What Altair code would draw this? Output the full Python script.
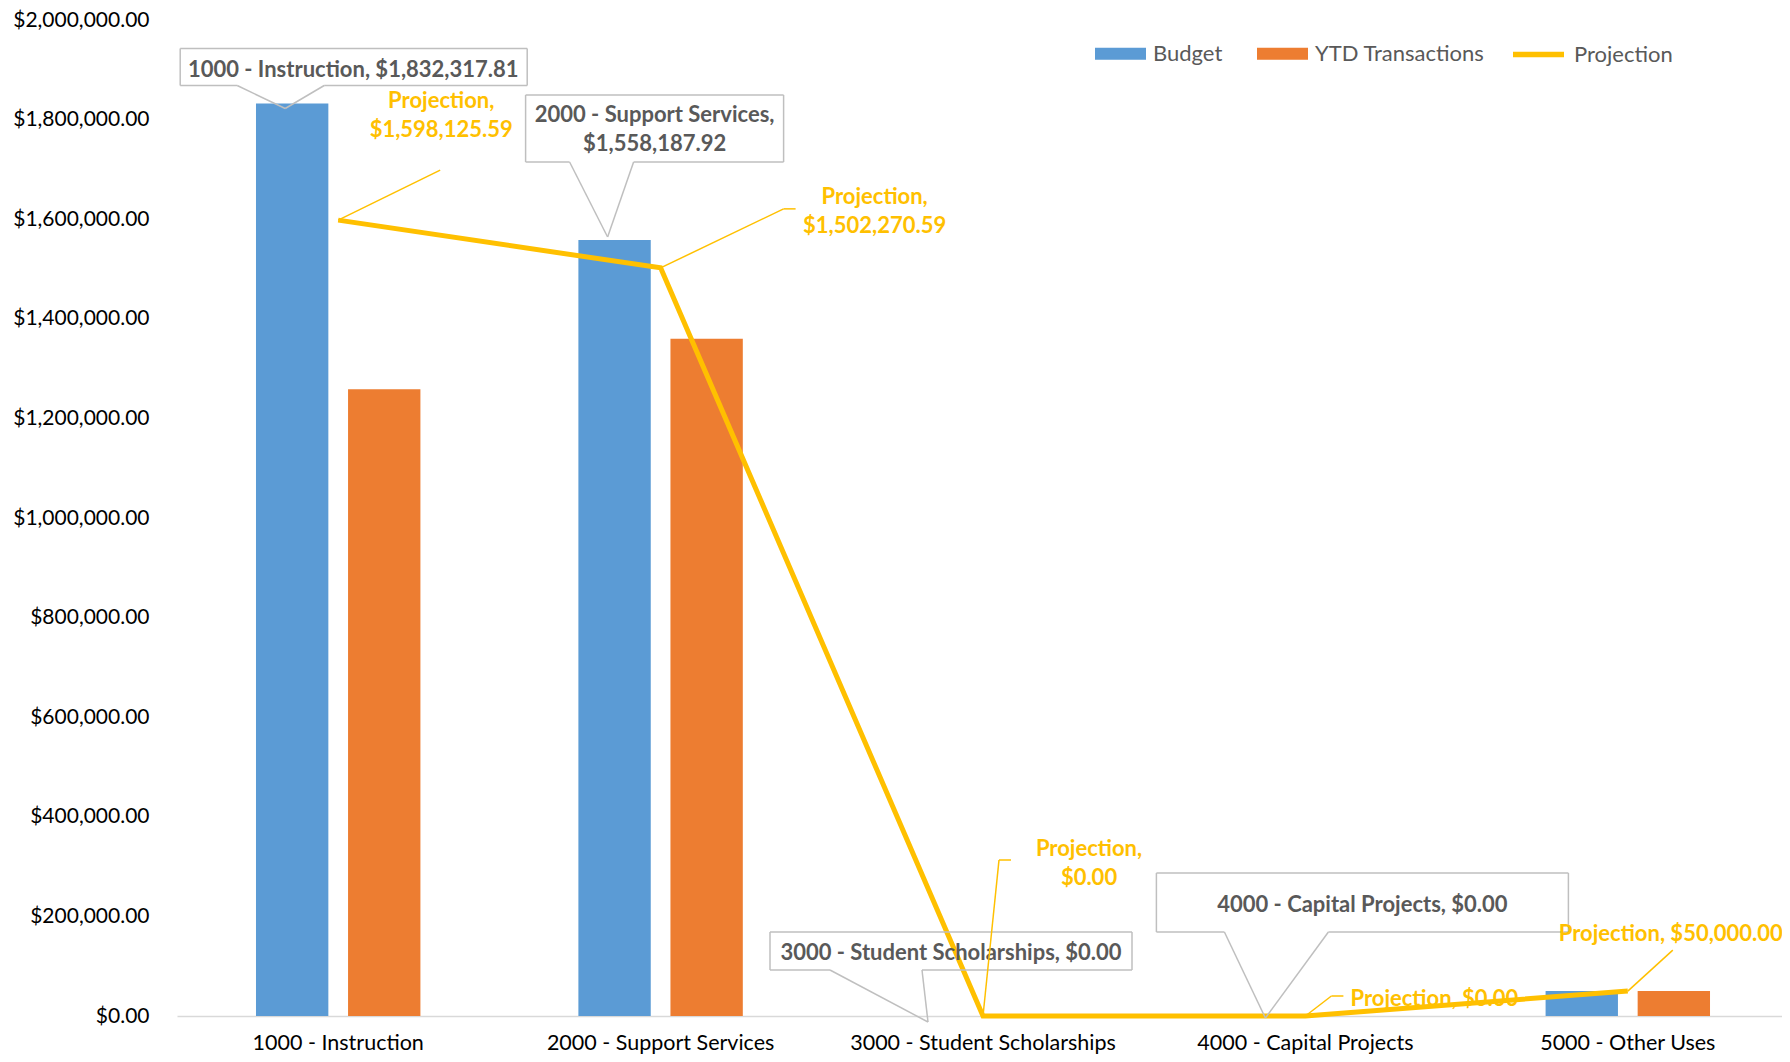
import altair as alt
import pandas as pd

# ---------------- data ----------------
categories = [
    "1000 - Instruction",
    "2000 - Support Services",
    "3000 - Student Scholarships",
    "4000 - Capital Projects",
    "5000 - Other Uses",
]
budget = [1832317.81, 1558187.92, 0.0, 0.0, 50000.0]
ytd = [1258500.0, 1360000.0, 0.0, 0.0, 50000.0]
projection = [1598125.59, 1502270.59, 0.0, 0.0, 50000.0]
series_names = ["Budget", "YTD Transactions", "Projection"]
series_colors = ["#5B9BD5", "#ED7D31", "#FFC000"]
y_ticks = [0, 200000, 400000, 600000, 800000, 1000000,
           1200000, 1400000, 1600000, 1800000, 2000000]

FONT = "Lato"
GREY_TXT = "#595959"
BOX = "#BFBFBF"
YEL = "#FFC000"


def money(v):
    return "${:,.2f}".format(v)


bars_df = pd.DataFrame({
    "category": categories * 2,
    "series": [series_names[0]] * len(categories) + [series_names[1]] * len(categories),
    "value": budget + ytd,
})
line_df = pd.DataFrame({"category": categories, "value": projection,
                        "series": [series_names[2]] * len(categories)})

X = alt.X(
    "category:N", sort=categories, title=None,
    scale=alt.Scale(paddingInner=0.49, paddingOuter=0.245, range=[0, 1612]),
    axis=alt.Axis(labelAngle=0, ticks=False, domainColor="#D9D9D9", domainWidth=1.5,
                  labelFont=FONT, labelFontSize=21.5, labelColor="#000000", labelPadding=16,
                  labelLimit=0),
)
Y = alt.Y(
    "value:Q", title=None,
    scale=alt.Scale(domain=[0, 2000000], nice=False),
    axis=alt.Axis(values=y_ticks, format="$,.2f", grid=False, domain=False, ticks=False,
                  labelFont=FONT, labelFontSize=21, labelColor="#000000", labelPadding=28),
)

bar_legend = alt.Legend(
    title=None, orient="none", legendX=918, legendY=8, direction="horizontal",
    labelFont=FONT, labelFontSize=22, labelColor=GREY_TXT, labelOffset=7, labelLimit=0,
    columnPadding=34, symbolSize=2601, symbolType="M-1,-0.24H1V0.24H-1Z",
    symbolStrokeWidth=0, symbolOpacity=1,
)
line_legend = alt.Legend(
    title=None, orient="none", legendX=1333, legendY=6, direction="horizontal",
    labelFont=FONT, labelFontSize=22, labelColor=GREY_TXT, labelOffset=7, labelLimit=0,
    symbolSize=2601, symbolType="stroke", symbolStrokeWidth=5.5, symbolOpacity=1,
)

bars = alt.Chart(bars_df).mark_bar().encode(
    x=X,
    y=Y,
    xOffset=alt.XOffset("series:N", sort=series_names[:2],
                        scale=alt.Scale(paddingInner=0.214, paddingOuter=0)),
    color=alt.Color("series:N", scale=alt.Scale(domain=series_names[:2], range=series_colors[:2]),
                    legend=bar_legend),
)

line = alt.Chart(line_df).mark_line(strokeWidth=5).encode(
    x=alt.X("category:N", sort=categories),
    y="value:Q",
    color=alt.Color("series:N", scale=alt.Scale(domain=series_names[2:], range=series_colors[2:]),
                    legend=line_legend),
)


def one(i, values, text):
    return pd.DataFrame({"category": [categories[i]], "value": [values[i]], "label": [text]})


def seg(df, a, b, color, width):
    return alt.Chart(df).mark_rule(
        color=color, strokeWidth=width,
        xOffset=a[0], yOffset=a[1], x2Offset=b[0], y2Offset=b[1],
    ).encode(
        x=alt.X("category:N", sort=categories, bandPosition=0.5),
        x2=alt.X2("category", bandPosition=0.5),
        y="value:Q",
        y2="value",
    )


def txt(df, dx, dy, color, size=22):
    return alt.Chart(df).mark_text(
        dx=dx, dy=dy, color=color, font=FONT, fontWeight="bold", fontSize=size,
        align="center", baseline="middle", lineBreak="\n", lineHeight=29,
    ).encode(
        x=alt.X("category:N", sort=categories, bandPosition=0.5),
        y="value:Q",
        text="label:N",
    )


def callout(df, L, R, T, B, pL, pR, tip, tdx, tdy):
    layers = [
        seg(df, (L, T), (R, T), BOX, 1.5),
        seg(df, (L, T), (L, B), BOX, 1.5),
        seg(df, (R, T), (R, B), BOX, 1.5),
        seg(df, (L, B), (pL, B), BOX, 1.5),
        seg(df, (pR, B), (R, B), BOX, 1.5),
        seg(df, (pL, B), tip, BOX, 1.5),
        seg(df, (pR, B), tip, BOX, 1.5),
        txt(df, tdx, tdy, GREY_TXT),
    ]
    return layers


def leader(df, pts, tdx, tdy):
    layers = []
    for a, b in zip(pts[:-1], pts[1:]):
        layers.append(seg(df, a, b, YEL, 1.5))
    layers.append(txt(df, tdx, tdy, YEL))
    return layers


annot = []
# budget callouts
d0 = one(0, budget, categories[0] + ", " + money(budget[0]))
annot += callout(d0, -158, 189, -55, -18, -101, -14, (-53, 5), 15, -34)
d1 = one(1, budget, categories[1] + ",\n" + money(budget[1]))
annot += callout(d1, -135, 123, -145, -78, -91, -27, (-53, -3), -6, -125)
d2 = one(2, budget, categories[2] + ", " + money(budget[2]))
annot += callout(d2, -213, 149, -84, -46, -153, -61, (-55, 6), -32, -63)
d3 = one(3, budget, categories[3] + ", " + money(budget[3]))
annot += callout(d3, -149, 263, -143, -84, -81, 23, (-40, 2), 57, -111)

# projection labels
p0 = one(0, projection, "Projection,\n" + money(projection[0]))
annot += leader(p0, [(0, 0), (102, -50)], 103, -119)
p1 = one(1, projection, "Projection,\n" + money(projection[1]))
annot += leader(p1, [(0, 0), (123, -59), (135, -59)], 214, -71)
p2 = one(2, projection, "Projection,\n" + money(projection[2]))
annot += leader(p2, [(0, 0), (16, -156), (28, -156)], 106, -167)
p3 = one(3, projection, "Projection, " + money(projection[3]))
annot += leader(p3, [(0, 0), (26, -20), (38, -20)], 129, -17)
p4 = one(4, projection, "Projection, " + money(projection[4]))
annot += leader(p4, [(0, 0), (45, -41)], 43, -57)

chart = alt.layer(bars, line, *annot).resolve_scale(color="independent").properties(
    width=1605,
    height=996,
    padding={"left": 169, "top": 12, "right": 0, "bottom": 38},
    autosize=alt.AutoSizeParams(type="none"),
    background="white",
).configure_view(stroke=None)

chart.save("out.html", embed_options={"renderer": "svg", "actions": False})
